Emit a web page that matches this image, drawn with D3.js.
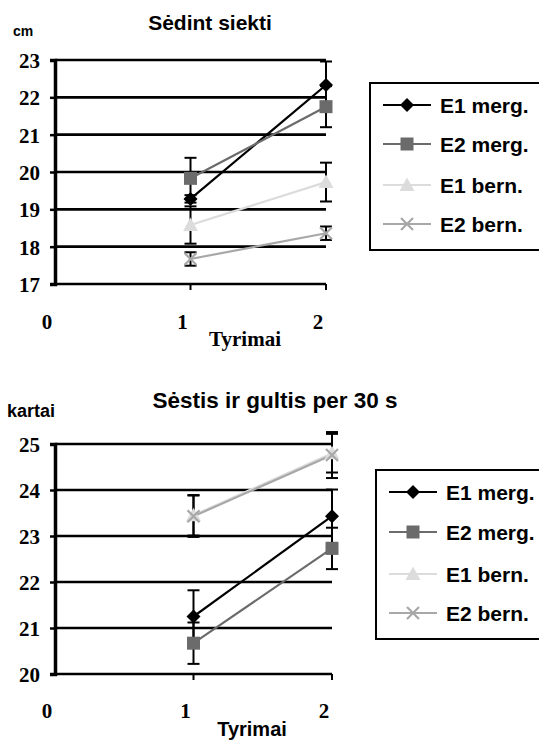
<!DOCTYPE html>
<html>
<head>
<meta charset="utf-8">
<script src="https://cdn.jsdelivr.net/npm/d3@7"></script>
<style>
  html, body { margin: 0; padding: 0; background: #fff; }
  svg { display: block; }
</style>
</head>
<body>
<svg id="chart" width="539" height="740"></svg>
<script>
// Series and trials
const seriesNames = ["E1 merg.", "E2 merg.", "E1 bern.", "E2 bern."];
const seriesColors = ["#000000", "#6b6b6b", "#dcdcdc", "#a8a8a8"];
const seriesMarkers = ["diamond", "square", "triangle", "x"];
const trials = [1, 2];
const xTickLabels = ["0", "1", "2"];

// Sėdint siekti (cm): means and error half-widths per series, per trial
const reachE1merg = [19.28, 22.33];
const reachE2merg = [19.83, 21.75];
const reachE1bern = [18.58, 19.73];
const reachE2bern = [17.67, 18.36];
const reachErrE1merg = [0.1, 0.63];
const reachErrE2merg = [0.55, 0.55];
const reachErrE1bern = [0.5, 0.52];
const reachErrE2bern = [0.18, 0.18];
const reachTicks = [17, 18, 19, 20, 21, 22, 23];

// Sėstis ir gultis per 30 s (kartai)
const situpE1merg = [21.25, 23.43];
const situpE2merg = [20.67, 22.73];
const situpE1bern = [23.45, 24.80];
const situpE2bern = [23.43, 24.76];
const situpErrE1merg = [0.57, 0.58];
const situpErrE2merg = [0.45, 0.45];
const situpErrE1bern = [0.44, 0.42];
const situpErrE2bern = [0.45, 0.50];
const situpTicks = [20, 21, 22, 23, 24, 25];

const SANS = '"Liberation Sans", Arial, sans-serif';
const SERIF = '"Liberation Serif", "Times New Roman", serif';

const svg = d3.select("#chart");

function font(sel, family, size) {
  return sel.style("font-family", family).style("font-weight", "bold")
    .style("font-size", size + "px").attr("fill", "#000");
}

function markerPath(type) {
  switch (type) {
    case "diamond": return "M0,-7L7,0L0,7L-7,0Z";
    case "square": return "M-6.5,-6.5H6.5V6.5H-6.5Z";
    case "triangle": return "M0,-7.5L7.5,6L-7.5,6Z";
    case "x": return "M-6,-6L6,6M-6,6L6,-6";
  }
}

function drawMarker(g, type, color, x, y) {
  const p = g.append("path")
    .attr("d", markerPath(type))
    .attr("transform", `translate(${x},${y})`);
  if (type === "x") {
    p.attr("fill", "none").attr("stroke", color).attr("stroke-width", 2.2);
  } else {
    p.attr("fill", color);
  }
}

function drawChart(cfg) {
  const g = svg.append("g");
  const x = d3.scaleLinear().domain([0, 2]).range([cfg.left, cfg.right]);
  const y = d3.scaleLinear().domain(d3.extent(cfg.ticks)).range([cfg.bottom, cfg.top]);

  // horizontal gridlines (the lowest one serves as the x axis)
  g.selectAll("line.grid").data(cfg.ticks).join("line")
    .attr("x1", cfg.left).attr("x2", cfg.right)
    .attr("y1", d => y(d)).attr("y2", d => y(d))
    .attr("stroke", "#000").attr("stroke-width", 2.6);

  // y axis with ticks and serif labels
  const yAxis = d3.axisLeft(y).tickValues(cfg.ticks).tickSize(5).tickPadding(10)
    .tickFormat(d3.format("d"));
  const ya = g.append("g").attr("transform", `translate(${cfg.left},0)`).call(yAxis);
  ya.select(".domain").attr("stroke", "#000").attr("stroke-width", 3.5);
  ya.selectAll(".tick line").attr("stroke", "#000").attr("stroke-width", 2.5);
  font(ya.selectAll(".tick text"), SERIF, 21).attr("dy", "0.35em");

  // x ticks below the axis
  g.selectAll("line.xt").data(trials).join("line")
    .attr("x1", d => x(d)).attr("x2", d => x(d))
    .attr("y1", cfg.bottom).attr("y2", cfg.bottom + 6)
    .attr("stroke", "#000").attr("stroke-width", 2);
  font(g.selectAll("text.xl").data(xTickLabels).join("text"), SERIF, 21)
    .attr("x", (d, i) => x(i) - 8).attr("y", cfg.xLabelY)
    .attr("text-anchor", "middle").text(d => d);

  // x axis title
  font(g.append("text"), cfg.xTitleFont, cfg.xTitleSize)
    .attr("x", cfg.xTitleX).attr("y", cfg.xTitleY).attr("text-anchor", "middle")
    .text("Tyrimai");

  // chart title and unit label
  font(g.append("text"), SANS, cfg.titleSize)
    .attr("x", cfg.titleX).attr("y", cfg.titleY).attr("text-anchor", "middle")
    .text(cfg.title);
  font(g.append("text"), SANS, cfg.unitSize)
    .attr("x", cfg.unitX).attr("y", cfg.unitY).text(cfg.unit);

  const line = d3.line().x((d, i) => x(trials[i])).y(d => y(d));

  // series lines
  cfg.series.forEach((vals, s) => {
    g.append("path").datum(vals).attr("d", line)
      .attr("fill", "none").attr("stroke", seriesColors[s]).attr("stroke-width", 2.2);
  });
  // error bars
  cfg.series.forEach((vals, s) => {
    vals.forEach((v, i) => {
      const e = cfg.errors[s][i];
      const cx = x(trials[i]);
      const eg = g.append("g").attr("stroke", "#000").attr("stroke-width", 2);
      eg.append("line").attr("x1", cx).attr("x2", cx).attr("y1", y(v - e)).attr("y2", y(v + e));
      [v - e, v + e].forEach(c => {
        eg.append("line").attr("x1", cx - 6).attr("x2", cx + 6).attr("y1", y(c)).attr("y2", y(c));
      });
    });
  });
  // markers
  cfg.series.forEach((vals, s) => {
    vals.forEach((v, i) => drawMarker(g, seriesMarkers[s], seriesColors[s], x(trials[i]), y(v)));
  });

  // legend
  const lg = g.append("g");
  lg.append("rect").attr("x", cfg.legX).attr("y", cfg.legTop)
    .attr("width", 200).attr("height", cfg.legBottom - cfg.legTop)
    .attr("fill", "#fff").attr("stroke", "#000").attr("stroke-width", 2);
  seriesNames.forEach((name, s) => {
    const ry = cfg.legRows[s];
    const lx0 = cfg.legX + 13, lx1 = cfg.legX + 61, mx = (lx0 + lx1) / 2;
    lg.append("line").attr("x1", lx0).attr("x2", lx1).attr("y1", ry).attr("y2", ry)
      .attr("stroke", seriesColors[s]).attr("stroke-width", 2.2);
    drawMarker(lg, seriesMarkers[s], seriesColors[s], mx, ry);
    font(lg.append("text"), SANS, 21)
      .attr("x", cfg.legX + 70).attr("y", ry).attr("dy", "0.36em").text(name);
  });
}

drawChart({
  title: "Sėdint siekti", titleX: 210, titleY: 30, titleSize: 21,
  unit: "cm", unitX: 13, unitY: 36, unitSize: 14,
  left: 55, right: 326, top: 60, bottom: 284,
  ticks: reachTicks,
  xLabelY: 329, xTitleFont: SERIF, xTitleSize: 21, xTitleX: 245, xTitleY: 346,
  series: [reachE1merg, reachE2merg, reachE1bern, reachE2bern],
  errors: [reachErrE1merg, reachErrE2merg, reachErrE1bern, reachErrE2bern],
  legX: 370, legTop: 83, legBottom: 250, legRows: [105, 144, 185, 224]
});

drawChart({
  title: "Sėstis ir gultis per 30 s", titleX: 275, titleY: 408, titleSize: 22.5,
  unit: "kartai", unitX: 7, unitY: 417, unitSize: 18,
  left: 55, right: 332, top: 444, bottom: 674,
  ticks: situpTicks,
  xLabelY: 718, xTitleFont: SANS, xTitleSize: 20, xTitleX: 252, xTitleY: 736,
  series: [situpE1merg, situpE2merg, situpE1bern, situpE2bern],
  errors: [situpErrE1merg, situpErrE2merg, situpErrE1bern, situpErrE2bern],
  legX: 376, legTop: 470, legBottom: 639, legRows: [492, 532, 574, 613]
});
</script>
</body>
</html>
